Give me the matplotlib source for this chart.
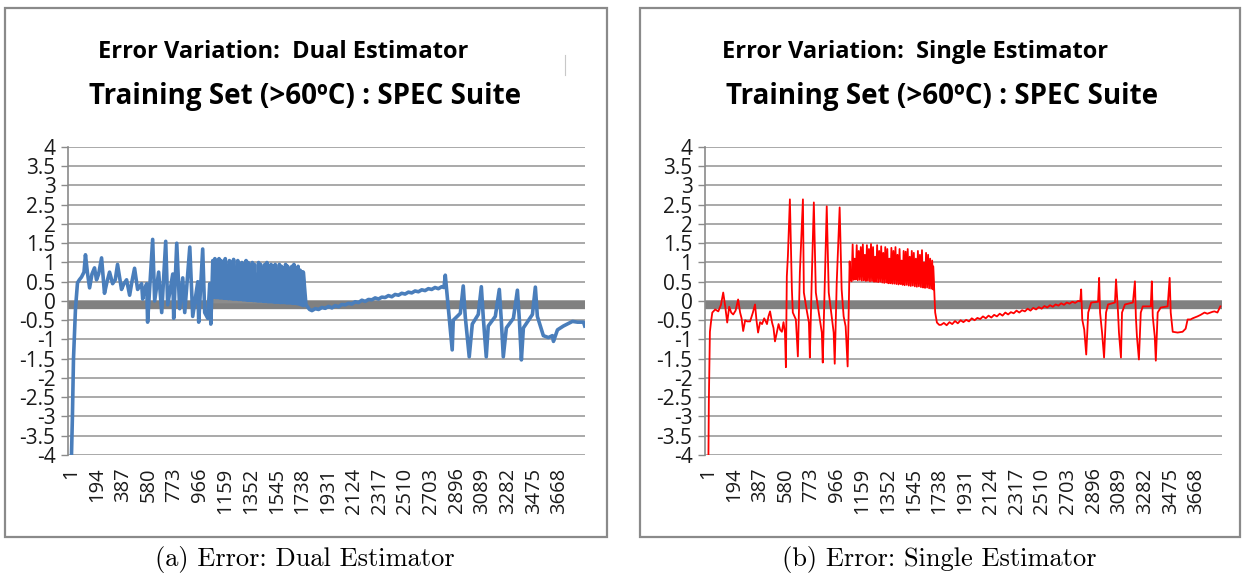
import matplotlib.pyplot as plt
import numpy as np

# ---------------- data (sample index, error) ----------------
xtick_labels = [1, 194, 387, 580, 773, 966, 1159, 1352, 1545, 1738, 1931,
                2124, 2317, 2510, 2703, 2896, 3089, 3282, 3475, 3668]
ytick_values = [4, 3.5, 3, 2.5, 2, 1.5, 1, 0.5, 0, -0.5, -1, -1.5, -2,
                -2.5, -3, -3.5, -4]

# (a) dual estimator
dual_head_x = [1, 8, 16, 31, 46, 60, 76, 95, 106, 121, 137, 155, 174, 189, 205,
               227, 249, 268, 287, 310, 330, 347, 377, 395, 415, 438, 455, 475,
               498, 528, 536, 550, 566, 573, 611, 626, 656, 679, 709, 724, 762,
               769, 792, 814, 837, 852, 890, 912, 950, 957, 987, 1002, 1025,
               1040, 1048]
dual_head_y = [-4.0, -3.0, -1.5, -0.2, 0.47, 0.55, 0.62, 0.75, 1.2, 0.73, 0.34,
               0.7, 0.86, 0.55, 0.7, 1.12, 0.2, 0.5, 0.75, 0.45, 0.55, 0.95,
               0.3, 0.45, 0.55, 0.15, 0.5, 0.85, 0.3, 0.45, 0.05, 0.3, 0.45,
               -0.55, 1.6, 0.0, 0.75, -0.3, 1.55, -0.1, 0.7, -0.45, 1.5, -0.2,
               0.6, -0.3, 1.4, -0.4, 0.5, -0.55, 1.35, -0.3, -0.45, 0.45, -0.6]
dual_dense_start, dual_dense_end = 1055, 1743
dual_dense_peaks = [1.05, 1.1, 0.95, 1.1, 1.05, 1.0, 1.1, 0.9, 1.05, 1.0, 1.08,
                    0.8, 1.05, 0.95, 1.0, 0.7, 1.05, 1.0, 0.9, 1.0, 0.95, 0.6,
                    1.0, 0.95, 0.85, 0.95, 1.0, 0.75, 0.95, 0.9, 0.95, 0.65,
                    0.95, 0.9, 0.85, 0.95, 0.9, 0.7, 0.9, 0.95, 0.85, 0.9, 0.8,
                    0.75]
dual_dense_base = [0.1, 0.1, 0.09, 0.09, 0.08, 0.08, 0.07, 0.07, 0.06, 0.06,
                   0.05, 0.05, 0.05, 0.04, 0.04, 0.03, 0.03, 0.02, 0.02, 0.02,
                   0.01, 0.01, 0.0, 0.0, 0.0, -0.01, -0.01, -0.02, -0.02,
                   -0.02, -0.03, -0.03, -0.03, -0.04, -0.04, -0.04, -0.05,
                   -0.05, -0.05, -0.06, -0.06, -0.07, -0.08, -0.1, -0.12]
dual_tail_x = [1743, 1763, 1790, 1808, 1833, 1858, 1883, 1908, 1933, 1958,
               1983, 2008, 2033, 2058, 2083, 2108, 2133, 2158, 2183, 2208,
               2233, 2258, 2283, 2308, 2333, 2358, 2383, 2408, 2433, 2458,
               2483, 2508, 2533, 2558, 2583, 2608, 2633, 2658, 2683, 2708,
               2733, 2758, 2783, 2800, 2810, 2862, 2870,
               2923, 2945, 2960, 2990, 3013, 3058, 3081, 3096, 3118, 3133,
               3186, 3216, 3231, 3246, 3269, 3322, 3352, 3367, 3382, 3397,
               3465, 3487, 3502, 3547, 3585, 3615, 3623, 3653, 3698, 3766,
               3804, 3849, 3858]
dual_tail_y = [0.75, -0.1, -0.22, -0.25, -0.2, -0.22, -0.17, -0.19, -0.14,
               -0.18, -0.12, -0.15, -0.09, -0.1, -0.06, -0.08, -0.02, -0.04,
               0.02, -0.01, 0.04, 0.03, 0.08, 0.05, 0.1, 0.09, 0.14, 0.11,
               0.17, 0.15, 0.2, 0.18, 0.23, 0.21, 0.26, 0.24, 0.29, 0.27,
               0.32, 0.3, 0.35, 0.32, 0.37, 0.35, 0.67, -1.27, -0.5,
               -0.32, 0.39, -0.4, -1.45, -0.6, -0.35, 0.37, -0.45, -1.45,
               -0.65, -0.4, 0.3, -0.5, -1.45, -0.7, -0.45, 0.28, -0.5, -1.53,
               -0.7, -0.35, 0.36, -0.4, -0.9, -0.95, -0.9, -1.05, -0.75, -0.65,
               -0.53, -0.55, -0.55, -0.65]

# (b) single estimator
single_head_x = [1, 4, 8, 12, 20, 30, 52, 75, 95, 112, 127, 142, 157, 172, 187,
                 205, 224, 239, 250, 262, 277, 292, 314, 335, 351, 362, 374,
                 389, 404, 420, 441, 452, 464, 479, 490, 501, 516, 528, 540,
                 553, 565, 576, 583, 590, 598, 613, 628, 635, 658,
                 673, 688, 711, 718, 741, 756, 763, 778, 793, 808, 830, 853,
                 860, 875, 890, 905, 927, 942, 950, 965, 987, 1002, 1017, 1032,
                 1047, 1062, 1069, 1077]
single_head_y = [-4.0, -2.6, -1.6, -0.8, -0.55, -0.3, -0.22, -0.27, -0.1, 0.22,
                 -0.14, -0.56, -0.15, -0.3, -0.35, -0.25, 0.04, -0.3, -0.45,
                 -0.78, -0.5, -0.53, -0.53, -0.3, -0.09, -0.5, -0.82, -0.55,
                 -0.6, -0.45, -0.6, -0.4, -0.27, -0.56, -0.7, -1.05, -0.8,
                 -0.6, -0.75, -0.8, -0.55, -0.82, -1.72, 0.64, 1.16, 2.64, 0.3,
                 -0.3, -0.48, -1.44, 0.74, 2.64, 0.22, -0.27, -0.56, -1.47,
                 0.64, 2.56, 0.22, -0.3, -0.82, -1.6, 0.38, 2.46, 0.22, -0.4,
                 -0.82, -1.63, 0.48, 2.43, 0.3, -0.4, -0.66, -1.7, 1.03, 0.56,
                 0.51]
single_dense_start, single_dense_end = 1077, 1690
single_dense_peaks = [1.47, 1.1, 1.45, 1.3, 1.4, 1.47, 1.2, 1.45, 1.35, 1.48,
                      1.4, 1.15, 1.45, 1.3, 1.42, 1.25, 1.4, 1.35, 1.1, 1.38,
                      1.3, 1.4, 1.2, 1.35, 1.05, 1.3, 1.28, 1.35, 1.15, 1.3,
                      1.25, 1.1, 1.3, 1.2, 1.32, 1.0, 1.25, 1.2, 1.1, 1.05]
single_dense_base = [0.56, 0.55, 0.56, 0.54, 0.55, 0.53, 0.54, 0.52, 0.53,
                     0.51, 0.52, 0.5, 0.5, 0.49, 0.5, 0.48, 0.47, 0.48, 0.46,
                     0.46, 0.45, 0.45, 0.44, 0.43, 0.44, 0.42, 0.41, 0.42,
                     0.4, 0.39, 0.4, 0.38, 0.37, 0.38, 0.36, 0.35, 0.34, 0.35,
                     0.33, 0.32, 0.3]
single_tail_x = [1690, 1705, 1718, 1735,
                 1749, 1770, 1791, 1812, 1833, 1854, 1875, 1896, 1917, 1938,
                 1959, 1980, 2001, 2022, 2043, 2064, 2085, 2106, 2127, 2148,
                 2169, 2190, 2211, 2232, 2253, 2274, 2295, 2316, 2337, 2358,
                 2379, 2400, 2421, 2442, 2463, 2484, 2505, 2526, 2547, 2568,
                 2589, 2610, 2631, 2652, 2673, 2694, 2715, 2736, 2757, 2778,
                 2795, 2802, 2810, 2825, 2840, 2855, 2877, 2929, 2937,
                 2944, 2959, 2974, 2989, 3004, 3056, 3064, 3079, 3086, 3101,
                 3109, 3131, 3191, 3206, 3213, 3221, 3236, 3250, 3265, 3325,
                 3333, 3340, 3355, 3363, 3377, 3400, 3452, 3467, 3475, 3490,
                 3527, 3564, 3587, 3602, 3624, 3640, 3676, 3700, 3729, 3750,
                 3774, 3790, 3804, 3826, 3848]
single_tail_y = [0.9, -0.3, -0.56, -0.62,
                 -0.62, -0.57, -0.63, -0.55, -0.6, -0.52, -0.58, -0.5, -0.55,
                 -0.49, -0.53, -0.45, -0.5, -0.44, -0.47, -0.4, -0.45, -0.38,
                 -0.43, -0.36, -0.4, -0.33, -0.38, -0.3, -0.35, -0.29, -0.32,
                 -0.25, -0.3, -0.24, -0.27, -0.2, -0.25, -0.18, -0.22, -0.16,
                 -0.2, -0.13, -0.17, -0.11, -0.15, -0.09, -0.12, -0.06, -0.1,
                 -0.04, -0.07, -0.02, -0.05, 0.0,
                 -0.01, 0.3, -0.48, -0.74, -1.39, -0.3, -0.04, -0.02, 0.6,
                 -0.3, -0.82, -1.47, -0.3, -0.09, -0.04, 0.56, -0.3, -0.82,
                 -1.47, -0.3, -0.09, -0.04, 0.51, -0.4, -0.92, -1.52, -0.3,
                 -0.14, -0.14, 0.51, -0.4, -0.92, -1.55, -0.3, -0.17, -0.14,
                 0.6, -0.3, -0.8, -0.82, -0.8, -0.72, -0.48, -0.48, -0.45,
                 -0.4, -0.36, -0.3, -0.33, -0.3, -0.28, -0.27, -0.3, -0.14]

TITLE_FONT = ['Liberation Sans Narrow', 'Open Sans', 'DejaVu Sans']
TICK_FONT = ['Liberation Sans Narrow', 'Open Sans', 'DejaVu Sans']


def build_series(head_x, head_y, start, end, peaks, base, tail_x, tail_y):
    # dense part: alternating base / peak samples
    n = 2 * len(peaks) + 1
    dx = np.linspace(start, end, n)
    dy = np.empty(n)
    dy[0::2] = base
    dy[1::2] = peaks
    x = np.concatenate([head_x, dx, tail_x])
    y = np.concatenate([head_y, dy, tail_y])
    return x, y, dx[0::2], np.array(base)


def draw_panel(fig, rect, box, x, y, color, lw, title1, title2, t1x, t2x,
               caption, capx, wedge=None):
    fig.add_artist(plt.Rectangle((box[0], box[1]), box[2], box[3],
                                 transform=fig.transFigure, fill=False,
                                 edgecolor='#8a8a8a', lw=1.6))
    ax = fig.add_axes(rect)
    ax.set_xlim(-25, 3860)
    ax.set_ylim(-4, 4)
    ax.axhline(-0.11, color='#808080', lw=6, zorder=1, solid_capstyle='butt')
    if wedge is not None:
        ax.fill_between(wedge[0], wedge[1], -0.05, color='#8c8c8c', lw=0,
                        zorder=1.5)
    ax.plot(x, y, color=color, lw=lw, zorder=3)
    ax.set_yticks(ytick_values)
    ax.set_yticklabels([f"{v:g}" for v in ytick_values], family=TICK_FONT,
                       fontsize=15, color='#1a1a1a')
    ax.set_xticks(xtick_labels)
    ax.set_xticklabels([str(v) for v in xtick_labels], rotation=90,
                       family=TICK_FONT, fontsize=14.5, color='#1a1a1a')
    ax.tick_params(axis='x', length=0, pad=9)
    ax.tick_params(axis='y', length=5, width=1, color='#8a8a8a', pad=4)
    ax.yaxis.grid(True, color='#a3a3a3', lw=1.3)
    ax.set_axisbelow(True)
    for side in ['top', 'right', 'bottom']:
        ax.spines[side].set_visible(False)
    ax.spines['left'].set_color('#8a8a8a')
    ax.spines['left'].set_linewidth(1.2)
    fig.text(t1x, 0.909, title1, ha='center', va='center', family=TITLE_FONT,
             fontweight='bold', fontsize=17)
    fig.text(t2x, 0.832, title2, ha='center', va='center', family=TITLE_FONT,
             fontweight='bold', fontsize=20)
    fig.text(capx, 0.028, caption, ha='center', va='center', family='cmr10',
             fontsize=19)
    return ax


def main():
    fig = plt.figure(figsize=(12.46, 5.76), dpi=100)
    fig.patch.set_facecolor('white')

    dx, dy, wx, wy = build_series(dual_head_x, dual_head_y, dual_dense_start,
                                  dual_dense_end, dual_dense_peaks,
                                  dual_dense_base, dual_tail_x, dual_tail_y)
    sx, sy, _, _ = build_series(single_head_x, single_head_y,
                                single_dense_start, single_dense_end,
                                single_dense_peaks, single_dense_base,
                                single_tail_x, single_tail_y)

    draw_panel(fig, [0.0546, 0.2101, 0.4149, 0.5347],
               [0.004, 0.068, 0.483, 0.918], dx, dy, '#4a7ebb', 2.6,
               'Error Variation:  Dual Estimator',
               'Training Set (>60ºC) : SPEC Suite', 0.227, 0.245,
               '(a) Error: Dual Estimator', 0.245, wedge=(wx, wy))
    draw_panel(fig, [0.5658, 0.2101, 0.4149, 0.5347],
               [0.5136, 0.068, 0.4816, 0.918], sx, sy, '#ff0000', 1.3,
               'Error Variation:  Single Estimator',
               'Training Set (>60ºC) : SPEC Suite', 0.734, 0.756,
               '(b) Error: Single Estimator', 0.754)

    # stray cursor mark in the left screenshot
    fig.add_artist(plt.Line2D([0.4535, 0.4535], [0.87, 0.905],
                              transform=fig.transFigure, color='#c8c8c8',
                              lw=0.8))

    fig.savefig("out.png", dpi=100)


if __name__ == "__main__":
    main()
